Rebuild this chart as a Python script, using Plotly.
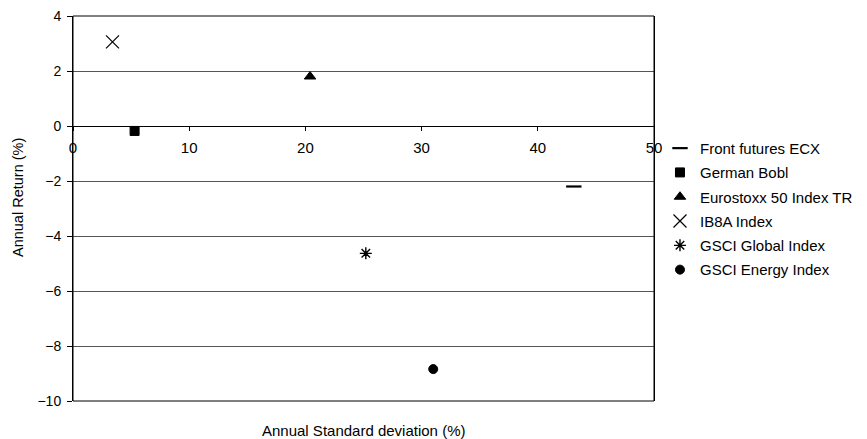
import plotly.graph_objects as go

names = ["Front futures ECX", "German Bobl", "Eurostoxx 50 Index TR",
         "IB8A Index", "GSCI Global Index", "GSCI Energy Index"]
std_dev = [43.1, 5.3, 20.4, 3.4, 25.2, 31.0]
annual_return = [-2.2, -0.18, 1.8, 3.06, -4.63, -8.84]
symbols = ["line-ew-open", "square", "triangle-up", "x-thin-open", "asterisk-open", "circle"]
sizes = [11, 9, 10, 13, 10, 9]
line_widths = [2.2, 1, 1, 1.2, 1.4, 1]

x_ticks = [0, 10, 20, 30, 40, 50]
y_ticks = [-10, -8, -6, -4, -2, 0, 2, 4]

FONT = "Liberation Sans, Arial, sans-serif"

fig = go.Figure()
for i, n in enumerate(names):
    fig.add_trace(go.Scatter(
        x=[std_dev[i]], y=[annual_return[i]], mode="markers", name=n,
        legendgroup=n,
        marker=dict(symbol=symbols[i], size=sizes[i], color="black",
                    line=dict(color="black", width=line_widths[i])),
    ))

fig.update_layout(
    width=859, height=431,
    margin=dict(l=65, r=213, t=8, b=38, autoexpand=False),
    paper_bgcolor="white", plot_bgcolor="white",
    font=dict(family=FONT, size=15, color="black"),
    showlegend=True,
    legend=dict(x=1.0103, y=0.699, xanchor="left", yanchor="top",
                traceorder="grouped", tracegroupgap=1.8,
                font=dict(size=15), itemwidth=30,
                bgcolor="rgba(0,0,0,0)"),
    xaxis=dict(range=[0, 50], tickvals=x_ticks, ticks="outside", ticklen=4,
               tickcolor="black", showline=True, linecolor="black", linewidth=1,
               showgrid=False, zeroline=False, anchor="free", automargin=False,
               position=10 / 14, tickfont=dict(size=15), ticklabelstandoff=4,
               ticklabeloverflow="allow"),
    xaxis2=dict(range=[0, 50], overlaying="x", side="top", anchor="y",
                showline=True, linecolor="black", linewidth=1.3,
                showticklabels=False, ticks="", showgrid=False, zeroline=False,
                automargin=False),
    yaxis=dict(range=[-10, 4], tickvals=y_ticks, ticks="outside", ticklen=5,
               tickcolor="black", showline=True, linecolor="black", linewidth=1,
               mirror=True,
               showgrid=True, gridcolor="#555555", gridwidth=1, automargin=False,
               zeroline=False, tickfont=dict(size=14), ticklabelstandoff=3,
               ticklabeloverflow="allow"),
    shapes=[dict(type="rect", xref="paper", yref="paper", x0=0, x1=1, y0=0, y1=1,
                 line=dict(color="black", width=1), fillcolor="rgba(0,0,0,0)",
                 layer="above")],
    annotations=[
        dict(text="Annual Standard deviation (%)", xref="paper", yref="paper",
             x=0.5, y=0, yshift=-19, xanchor="center", yanchor="top",
             showarrow=False, font=dict(size=15)),
        dict(text="Annual Return (%)", xref="paper", yref="paper",
             x=0, xshift=-55, y=0.5, yshift=10.5, xanchor="center", yanchor="middle",
             textangle=-90, showarrow=False, font=dict(size=14.5)),
    ],
)

fig.write_html("out.html", config={"displayModeBar": False})
